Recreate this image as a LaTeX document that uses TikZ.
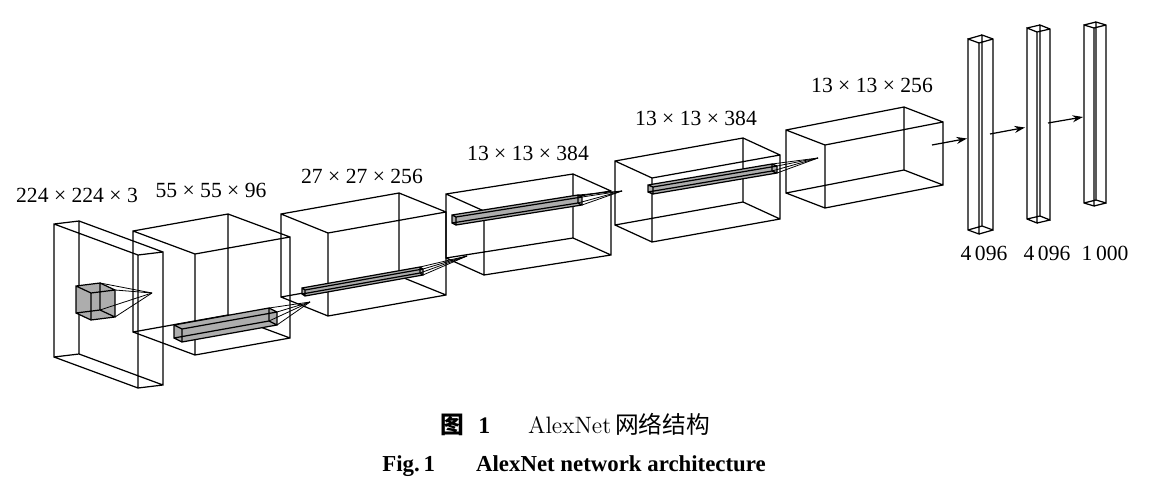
\documentclass[tikz,border=0pt]{standalone}
\usepackage{fontspec}
\usepackage{tikz}
\usetikzlibrary{arrows.meta, calc}
\newfontfamily\tnr{Liberation Serif}
\newfontfamily\cjk{Noto Sans CJK SC}

% cuboid: [fill], name, front top left corner, width vector, depth vector, height
\newcommand{\cuboid}[9][]{%
  \coordinate (#2-a) at (#3,#4);
  \coordinate (#2-b) at ($(#2-a)+(#5,#6)$);
  \coordinate (#2-c) at ($(#2-b)+(0,#9)$);
  \coordinate (#2-d) at ($(#2-a)+(0,#9)$);
  \coordinate (#2-e) at ($(#2-a)+(#7,#8)$);
  \coordinate (#2-f) at ($(#2-b)+(#7,#8)$);
  \coordinate (#2-g) at ($(#2-c)+(#7,#8)$);
  \coordinate (#2-h) at ($(#2-d)+(#7,#8)$);
  \path[#1] (#2-e) -- (#2-f) -- (#2-b) -- (#2-c) -- (#2-d) -- (#2-h) -- cycle;
  \draw[edge] (#2-a) -- (#2-b) -- (#2-c) -- (#2-d) -- cycle
    (#2-e) -- (#2-f) -- (#2-g) -- (#2-h) -- cycle
    (#2-a) -- (#2-e) (#2-b) -- (#2-f) (#2-c) -- (#2-g) (#2-d) -- (#2-h);
}

\begin{document}
\begin{tikzpicture}
[x=0.02cm, y=-0.02cm,
 edge/.style={line width=0.7pt},
 ray/.style={line width=0.45pt},
 kern/.style={fill=black!32},
 flow/.style={line width=0.7pt, -{Stealth[length=6pt, width=4pt]}},
 dim/.style={font=\tnr\fontsize{12.3}{14}\selectfont, inner sep=0pt}]

\useasboundingbox (0,0) rectangle (1155,500);

% layers
\cuboid{in}{138}{255}{25}{-3}{-84}{-31}{133}
\cuboid{c1}{195}{254}{95}{-17}{-62}{-23}{101}
\cuboid{c2}{328}{233}{118}{-21}{-47}{-19}{83}
\cuboid{c3}{484}{211}{127}{-20}{-38}{-17}{64}
\cuboid{c4}{652}{178}{128}{-23}{-37}{-17}{64}
\cuboid{c5}{825}{145}{118}{-23}{-39}{-15}{63}

% kernels
\cuboid[kern]{k1}{91}{293}{24}{-3}{-15}{-7}{27}
\cuboid[kern]{k2}{182}{329}{95}{-17}{-8}{-4}{13}
\cuboid[kern]{k3}{305}{290}{118}{-21}{-3}{-2}{6}
\cuboid[kern]{k4}{456}{217}{126}{-20}{-4}{-2}{8}
\cuboid[kern]{k5}{653}{187}{124}{-21}{-5}{-2}{7}

% fully connected layers
\cuboid{f1}{968}{39}{11}{4}{14}{-4}{191}
\cuboid{f2}{1027}{28}{10}{4}{13}{-3}{191}
\cuboid{f3}{1084}{25}{10}{3}{12}{-3}{178}

% receptive fields
\coordinate (p1) at (152,293);
\coordinate (p2) at (310,302);
\coordinate (p3) at (467,256);
\coordinate (p4) at (622,191);
\coordinate (p5) at (818,158);
\foreach \k/\p in {k1/p1, k2/p2, k3/p3, k4/p4, k5/p5}
  \foreach \c in {f,b,c,g}
    \draw[ray] (\k-\c) -- (\p);

% arrows
\coordinate (o5) at (932,145);
\coordinate (i1) at (967,138.5);
\coordinate (o1) at (990,134);
\coordinate (i2) at (1025,127.5);
\coordinate (o2) at (1048,123);
\coordinate (i3) at (1083,117);
\draw[flow] (o5) -- (i1);
\draw[flow] (o1) -- (i2);
\draw[flow] (o2) -- (i3);

% sizes
\node[dim] (l0) at (77,195) {224 × 224 × 3};
\node[dim] (l1) at (211,190) {55 × 55 × 96};
\node[dim] (l2) at (362,176) {27 × 27 × 256};
\node[dim] (l3) at (528,153) {13 × 13 × 384};
\node[dim] (l4) at (696,118) {13 × 13 × 384};
\node[dim] (l5) at (872,85) {13 × 13 × 256};
\node[dim] (n1) at (984,253) {4\,096};
\node[dim] (n2) at (1047,253) {4\,096};
\node[dim] (n3) at (1105,253) {1\,000};

% caption
\node[anchor=west, inner sep=0pt, font=\fontsize{13.5}{16}\selectfont] (cap1) at (440,425)
  {{\cjk\bfseries 图}\hspace{0.6em}{\tnr\bfseries 1}\hspace{1.6em}AlexNet\,{\cjk 网络结构}};
\node[anchor=west, inner sep=0pt, font=\tnr\bfseries\fontsize{13}{16}\selectfont] (cap2) at (382,466)
  {Fig.\,1\hspace{1.8em}AlexNet network architecture};
\end{tikzpicture}
\end{document}
